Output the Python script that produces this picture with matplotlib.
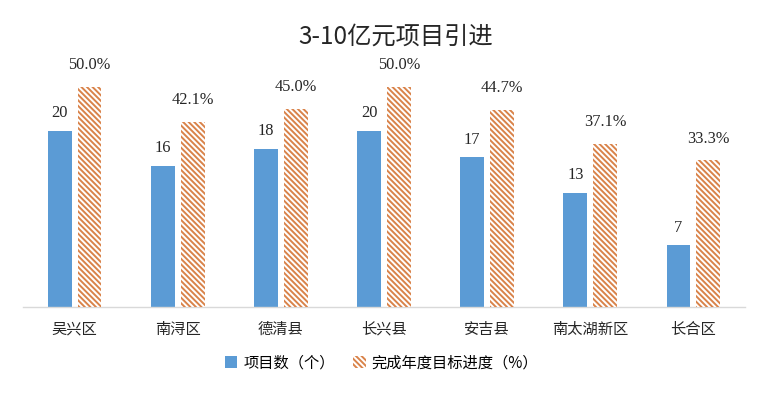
import matplotlib
matplotlib.use("Agg")
import matplotlib.pyplot as plt
import numpy as np
from matplotlib.patches import Patch

plt.rcParams['font.family'] = ['Noto Sans CJK SC', 'DejaVu Sans']
plt.rcParams['hatch.linewidth'] = 1.4

title = "3-10亿元项目引进"
categories = ["吴兴区", "南浔区", "德清县", "长兴县", "安吉县", "南太湖新区", "长合区"]
counts = [20, 16, 18, 20, 17, 13, 7]
percents = [50.0, 42.1, 45.0, 50.0, 44.7, 37.1, 33.3]
series_names = ["项目数（个）", "完成年度目标进度（%）"]

blue = "#5B9BD5"
orange = "#D9834A"
hatch = "\\" * 6

fig = plt.figure(figsize=(7.68, 3.96), dpi=100)
ax = fig.add_axes([23/768, 1-307/396, (745-23)/768, (307-87)/396])
ax2 = ax.twinx()

x = np.arange(len(categories))
w = 0.232
off = 0.145

ax.bar(x - off, counts, width=w, color=blue, zorder=2)
ax2.bar(x + off, percents, width=w, color="white", edgecolor=orange, hatch=hatch, linewidth=0, zorder=2)

ax.set_ylim(0, 25)
ax2.set_ylim(0, 50)
ax.set_xlim(-0.5, len(categories) - 0.5)

for xi, c in zip(x, counts):
    ax.annotate(f"{c}", (xi - off, c), xytext=(0, 7), textcoords="offset points",
                ha="center", va="bottom", fontsize=11.8, family="Liberation Serif", color="#262626")
for xi, p in zip(x, percents):
    ax2.annotate(f"{p:.1f}%", (xi + off, p), xytext=(0, 10), textcoords="offset points",
                 ha="center", va="bottom", fontsize=11.8, family="Liberation Serif", color="#262626")

for a in (ax, ax2):
    for s in ["top", "right", "left"]:
        a.spines[s].set_visible(False)
    a.set_yticks([])
ax2.spines["bottom"].set_visible(False)
ax.spines["bottom"].set_color("#D9D9D9")
ax.spines["bottom"].set_linewidth(1.0)

ax.set_xticks(x)
ax.set_xticklabels(categories, fontsize=11, color="#262626")
ax.tick_params(axis="x", length=0, pad=10)

fig.text(0.515, 1-37/396, title, ha="center", va="center", fontsize=17.5, color="#262626")

handles = [Patch(facecolor=blue, edgecolor="none"),
           Patch(facecolor="white", edgecolor=orange, hatch=hatch, linewidth=0)]
fig.legend(handles, series_names, loc="center", bbox_to_anchor=(0.497, 1-363/396),
           ncol=2, frameon=False, fontsize=11, handlelength=0.8, handleheight=0.8,
           handletextpad=0.4, columnspacing=1.2)

fig.savefig("out.png", dpi=100)
